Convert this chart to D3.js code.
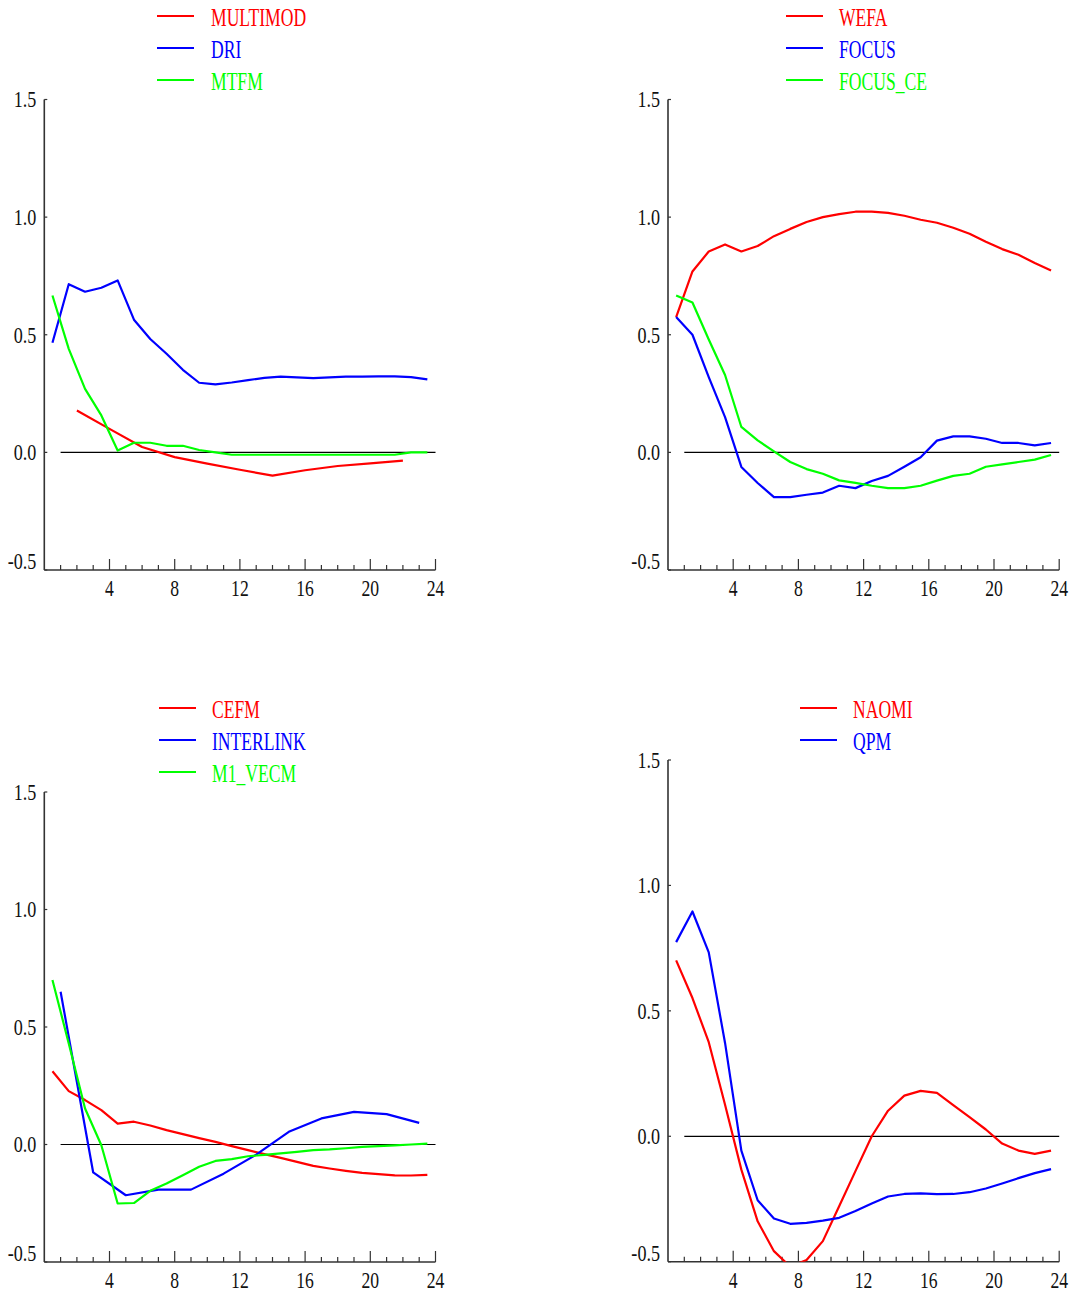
<!DOCTYPE html>
<html>
<head>
<meta charset="utf-8">
<script src="https://cdn.jsdelivr.net/npm/d3@7"></script>
<style>
  body { margin: 0; background: #fff; }
  svg { display: block; }
</style>
</head>
<body>
<svg id="chart" width="1073" height="1293"></svg>
<script>
// horizon steps (months)
const halfSteps = [0.5, 1.5, 2.5, 3.5, 4.5, 5.5, 6.5, 7.5, 8.5, 9.5, 10.5, 11.5,
                   12.5, 13.5, 14.5, 15.5, 16.5, 17.5, 18.5, 19.5, 20.5, 21.5, 22.5, 23.5];
const evenSteps = [2, 4, 6, 8, 10, 12, 14, 16, 18, 20, 22];
const oddSteps = [1, 3, 5, 7, 9, 11, 13, 15, 17, 19, 21, 23];

const xTicks = [4, 8, 12, 16, 20, 24];
const yTicks = [-0.5, 0.0, 0.5, 1.0, 1.5];

// panel 1
const multimod = [0.178, 0.100, 0.023, -0.020, -0.048, -0.074, -0.099, -0.076, -0.058, -0.047, -0.035];
const dri = [0.466, 0.715, 0.683, 0.700, 0.731, 0.564, 0.482, 0.419, 0.351, 0.296, 0.289, 0.297,
             0.307, 0.317, 0.322, 0.319, 0.316, 0.319, 0.322, 0.322, 0.323, 0.323, 0.320, 0.310];
const mtfm = [0.667, 0.440, 0.270, 0.157, 0.008, 0.041, 0.041, 0.028, 0.028, 0.010, 0.000, -0.010,
              -0.010, -0.010, -0.010, -0.010, -0.010, -0.010, -0.010, -0.010, -0.010, -0.010, 0.000, 0.000];

// panel 2
const wefa = [0.575, 0.769, 0.854, 0.884, 0.854, 0.877, 0.919, 0.950, 0.979, 1.000, 1.013, 1.023,
              1.023, 1.018, 1.006, 0.989, 0.976, 0.955, 0.929, 0.895, 0.864, 0.840, 0.805, 0.773];
const focus = [0.575, 0.500, 0.320, 0.150, -0.062, -0.130, -0.190, -0.190, -0.180, -0.171, -0.142, -0.152,
               -0.122, -0.100, -0.061, -0.021, 0.050, 0.068, 0.068, 0.058, 0.040, 0.040, 0.030, 0.040];
const focusCe = [0.667, 0.637, 0.480, 0.329, 0.108, 0.051, 0.004, -0.041, -0.071, -0.091, -0.119, -0.130,
                 -0.142, -0.152, -0.152, -0.142, -0.120, -0.100, -0.091, -0.061, -0.051, -0.041, -0.031, -0.011];

// panel 3
const cefm = [0.312, 0.227, 0.189, 0.146, 0.089, 0.097, 0.081, 0.061, 0.044, 0.027, 0.011, -0.007,
              -0.024, -0.041, -0.057, -0.074, -0.091, -0.102, -0.112, -0.121, -0.126, -0.131, -0.132, -0.129];
const interlink = [0.650, -0.119, -0.216, -0.192, -0.192, -0.124, -0.043, 0.054, 0.111, 0.139, 0.129, 0.092];
const m1Vecm = [0.700, 0.430, 0.153, -0.003, -0.251, -0.249, -0.197, -0.166, -0.131, -0.095, -0.070, -0.062,
                -0.050, -0.044, -0.038, -0.031, -0.024, -0.021, -0.016, -0.010, -0.007, -0.004, 0.000, 0.004];

// panel 4
const naomi = [0.701, 0.551, 0.375, 0.126, -0.133, -0.339, -0.458, -0.520, -0.493, -0.418, -0.279, -0.139,
               0.000, 0.102, 0.162, 0.181, 0.173, 0.124, 0.076, 0.027, -0.029, -0.057, -0.070, -0.057];
const qpm = [0.774, 0.896, 0.733, 0.372, -0.057, -0.255, -0.328, -0.349, -0.345, -0.336, -0.325, -0.298,
             -0.268, -0.240, -0.230, -0.228, -0.231, -0.230, -0.223, -0.208, -0.188, -0.167, -0.147, -0.131];

const RED = '#ff0000', BLUE = '#0000ff', GREEN = '#00ff00';

const panels = [
  { x0: 44.3, x1: 435.5, yTop: 99.5, yBot: 570, legX: 157, legTextX: 211, legY: 16,
    series: [
      { name: 'MULTIMOD', color: RED, xs: evenSteps, ys: multimod },
      { name: 'DRI', color: BLUE, xs: halfSteps, ys: dri },
      { name: 'MTFM', color: GREEN, xs: halfSteps, ys: mtfm }
    ] },
  { x0: 668, x1: 1059.2, yTop: 99.5, yBot: 570, legX: 786, legTextX: 839, legY: 16,
    series: [
      { name: 'WEFA', color: RED, xs: halfSteps, ys: wefa },
      { name: 'FOCUS', color: BLUE, xs: halfSteps, ys: focus },
      { name: 'FOCUS_CE', color: GREEN, xs: halfSteps, ys: focusCe }
    ] },
  { x0: 44.3, x1: 435.5, yTop: 792, yBot: 1262, legX: 159, legTextX: 212, legY: 708,
    series: [
      { name: 'CEFM', color: RED, xs: halfSteps, ys: cefm },
      { name: 'INTERLINK', color: BLUE, xs: oddSteps, ys: interlink },
      { name: 'M1_VECM', color: GREEN, xs: halfSteps, ys: m1Vecm }
    ] },
  { x0: 668, x1: 1059.2, yTop: 760, yBot: 1261.7, legX: 800, legTextX: 853, legY: 708,
    series: [
      { name: 'NAOMI', color: RED, xs: halfSteps, ys: naomi },
      { name: 'QPM', color: BLUE, xs: halfSteps, ys: qpm }
    ] }
];

const svg = d3.select('#chart');
const FONT = "'Liberation Serif', 'Times New Roman', serif";

// condensed serif text: draw normal glyphs and squeeze horizontally
function label(parent, x, y, str, anchor, size, sx, color) {
  parent.append('g')
      .attr('transform', `translate(${x},${y}) scale(${sx},1)`)
    .append('text')
      .attr('text-anchor', anchor)
      .attr('dominant-baseline', 'central')
      .attr('font-family', FONT)
      .attr('font-size', size)
      .attr('fill', color)
      .text(str);
}

panels.forEach((p, i) => {
  const g = svg.append('g');
  const x = d3.scaleLinear().domain([0, 24]).range([p.x0, p.x1]);
  const y = d3.scaleLinear().domain([-0.5, 1.5]).range([p.yBot, p.yTop]);

  // legend
  p.series.forEach((s, k) => {
    const ly = p.legY + k * 32;
    g.append('line')
        .attr('x1', p.legX).attr('x2', p.legX + 37)
        .attr('y1', ly).attr('y2', ly)
        .attr('stroke', s.color).attr('stroke-width', 2.2);
    label(g, p.legTextX, ly + 1, s.name, 'start', 25.5, 0.69, s.color);
  });

  // axes
  const axis = g.append('g').attr('stroke', '#333').attr('stroke-width', 1.6);
  axis.append('line')
      .attr('x1', x(0)).attr('x2', x(0))
      .attr('y1', y(1.5)).attr('y2', y(-0.5));
  axis.append('line')
      .attr('x1', x(0)).attr('x2', x(24))
      .attr('y1', y(-0.5)).attr('y2', y(-0.5));

  const minor = d3.range(1, 25);
  axis.selectAll('line.xtick')
    .data(minor)
    .join('line')
      .attr('class', 'xtick')
      .attr('x1', d => x(d)).attr('x2', d => x(d))
      .attr('y1', y(-0.5))
      .attr('y2', d => y(-0.5) - (d % 4 === 0 ? 11 : 5))
      .attr('stroke-width', 1.2);

  axis.selectAll('line.ytick')
    .data(yTicks)
    .join('line')
      .attr('class', 'ytick')
      .attr('x1', x(0)).attr('x2', x(0) + 3)
      .attr('y1', d => y(d)).attr('y2', d => y(d))
      .attr('stroke-width', 1.2);

  xTicks.forEach(t => {
    label(g, x(t), y(-0.5) + 18, String(t), 'middle', 23.5, 0.75, '#111');
  });
  yTicks.forEach(t => {
    const off = t === -0.5 ? -9 : 0;
    label(g, x(0) - 8, y(t) + off, t.toFixed(1), 'end', 23.5, 0.77, '#111');
  });

  // zero reference line
  g.append('line')
      .attr('x1', x(1)).attr('x2', x(24))
      .attr('y1', y(0)).attr('y2', y(0))
      .attr('stroke', '#000').attr('stroke-width', 1.2);

  // series, clipped to the plot frame
  const clipId = `clip${i}`;
  svg.append('clipPath').attr('id', clipId)
    .append('rect')
      .attr('x', x(0)).attr('y', y(1.5))
      .attr('width', x(24) - x(0)).attr('height', y(-0.5) - y(1.5));

  const line = d3.line().x(d => x(d[0])).y(d => y(d[1]));
  g.append('g').attr('clip-path', `url(#${clipId})`)
    .selectAll('path')
    .data(p.series)
    .join('path')
      .attr('d', s => line(s.xs.map((v, j) => [v, s.ys[j]])))
      .attr('fill', 'none')
      .attr('stroke', s => s.color)
      .attr('stroke-width', 2.2)
      .attr('stroke-linejoin', 'round');
});
</script>
</body>
</html>
